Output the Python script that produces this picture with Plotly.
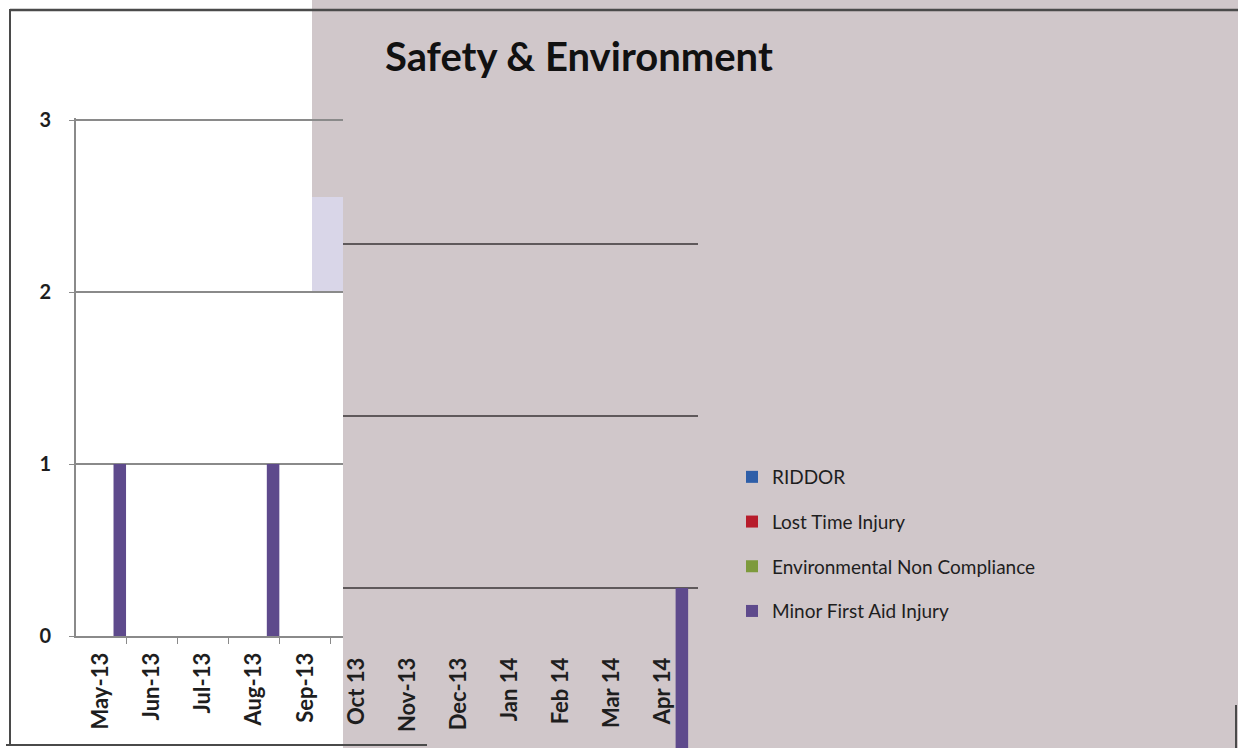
import plotly.graph_objects as go

# ---------------- data ----------------
months = ["May-13", "Jun-13", "Jul-13", "Aug-13", "Sep-13",
          "Oct 13", "Nov-13", "Dec-13", "Jan 14", "Feb 14", "Mar 14", "Apr 14"]
riddor = [0, 0, 0, 0, 0, 0, 0, 0, 0, 0, 0, 0]
lost_time_injury = [0, 0, 0, 0, 0, 0, 0, 0, 0, 0, 0, 0]
env_non_compliance = [0, 0, 0, 0, 0, 0, 0, 0, 0, 0, 0, 0]
minor_first_aid = [1, 0, 0, 1, 0, 0, 0, 0, 0, 0, 0, 1]
series_names = ["RIDDOR", "Lost Time Injury", "Environmental Non Compliance", "Minor First Aid Injury"]
series_values = [riddor, lost_time_injury, env_non_compliance, minor_first_aid]
y_ticks = [0, 1, 2, 3]
title_text = "Safety & Environment"

# ---------------- style ----------------
W, H = 1238, 748
OFF = 0  # body margin removed by post_script below
colors = ["#2e5ea8", "#b71c2b", "#7d9a3c", "#5e4a8c"]
grey_bg = "#d0c7ca"
txt = "#1e1e1e"

def fx(p):
    return min(max((p - OFF) / W, 0.0), 1.0)

def fy(p):
    return min(max(1 - (p - OFF) / H, 0.0), 1.0)

split = 5  # first part drawn on the white panel, rest on the grey panel
cat_w = 51.1
c0 = 101.0  # screen pixel centre of first category

a_left, a_right = 76.0, 343.0
a_range = [(a_left - c0) / cat_w, (a_right - c0) / cat_w]
b_c0 = c0 + cat_w * split
b_left, b_right = 343.0, 698.0
b_range = [(b_left - b_c0) / cat_w, (b_right - b_c0) / cat_w]

px_per_unit = 172.0
a_top, a_bottom = 118.3, 636.0
b_one = 588.0
b_top, b_bottom = 120.0, 748.0
b_yrange = [1 - (b_bottom - b_one) / px_per_unit, 1 + (b_one - b_top) / px_per_unit]

fig = go.Figure()
for name, vals, col in zip(series_names, series_values, colors):
    fig.add_trace(go.Bar(x=months[:split], y=vals[:split], name=name, marker_color=col,
                         marker_line_width=0, legendgroup=name, xaxis="x", yaxis="y"))
for name, vals, col in zip(series_names, series_values, colors):
    fig.add_trace(go.Bar(x=months[split:], y=vals[split:], name=name, marker_color=col,
                         marker_line_width=0, legendgroup=name, showlegend=False,
                         xaxis="x2", yaxis="y2"))

xtickfont = dict(family="Lato", size=22, color=txt, weight="bold")
ytickfont = dict(family="Lato", size=20, color=txt, weight="bold")

shapes = [
    dict(type="rect", xref="paper", yref="paper", x0=fx(343), x1=1, y0=0, y1=1,
         fillcolor=grey_bg, line_width=0, layer="below"),
    dict(type="rect", xref="paper", yref="paper", x0=fx(312), x1=fx(343), y0=fy(197), y1=1,
         fillcolor=grey_bg, line_width=0, layer="below"),
    dict(type="rect", xref="paper", yref="paper", x0=fx(312), x1=fx(343), y0=fy(292), y1=fy(197),
         fillcolor="#d9d6e8", line_width=0, layer="below"),
    # frame
    dict(type="line", xref="paper", yref="paper", x0=fx(10), x1=fx(10), y0=fy(745), y1=fy(9),
         line=dict(color="#4a4a4a", width=2)),
    dict(type="line", xref="paper", yref="paper", x0=fx(10), x1=1, y0=fy(10), y1=fy(10),
         line=dict(color="#4a4a4a", width=2.5)),
    dict(type="line", xref="paper", yref="paper", x0=fx(6), x1=fx(427), y0=fy(745), y1=fy(745),
         line=dict(color="#4a4a4a", width=2)),
    dict(type="line", xref="paper", yref="paper", x0=fx(1236), x1=fx(1236), y0=0, y1=fy(705),
         line=dict(color="#4a4a4a", width=2)),
]

fig.update_layout(
    width=W, height=H, autosize=False,
    margin=dict(l=0, r=0, t=0, b=0, pad=0, autoexpand=False),
    paper_bgcolor="white",
    plot_bgcolor="rgba(0,0,0,0)",
    barmode="group", bargap=0.02, bargroupgap=0,
    shapes=shapes,
    showlegend=True,
    legend=dict(x=fx(732), y=fy(458), xanchor="left", yanchor="top",
                bgcolor="rgba(0,0,0,0)", tracegroupgap=17,
                font=dict(family="Lato", size=19, color=txt)),
    annotations=[dict(text=title_text, xref="paper", yref="paper", x=fx(383), y=fy(56),
                      xanchor="left", yanchor="middle", showarrow=False,
                      font=dict(family="Lato", size=40, color="#111", weight="bold"))],
    xaxis=dict(domain=[fx(a_left), fx(a_right)], range=a_range, type="category",
               anchor="y", showline=True, linecolor="#8a8a8a", linewidth=2, automargin=False,
               ticks="outside", ticklen=6, tickcolor="#8a8a8a", tickson="boundaries",
               showgrid=False, tickangle=-90, tickfont=xtickfont, ticklabelstandoff=6),
    yaxis=dict(domain=[fy(a_bottom), fy(a_top)], range=[0, 3.01], anchor="x", automargin=False,
               tickvals=y_ticks, showline=True, linecolor="#8a8a8a", linewidth=2,
               ticks="outside", ticklen=5, tickcolor="#8a8a8a",
               showgrid=True, gridcolor="#8a8a8a", gridwidth=2, zeroline=False,
               tickfont=ytickfont, ticklabelstandoff=14),
    xaxis2=dict(domain=[fx(b_left), fx(b_right)], range=b_range, type="category",
                anchor="free", position=fy(636), showline=False, ticks="outside", automargin=False,
                ticklen=6, tickcolor="rgba(0,0,0,0)", ticklabelstandoff=6,
                showgrid=False, tickangle=-90, tickfont=xtickfont),
    yaxis2=dict(domain=[fy(b_bottom), fy(b_top)], range=b_yrange, anchor="x2", automargin=False,
                tickvals=y_ticks, showticklabels=False, ticks="", showline=False,
                showgrid=True, gridcolor="#5f595b", gridwidth=2, zeroline=False),
)

fig.write_html("out.html", config={"displayModeBar": False},
               post_script="document.body.style.margin='0';document.body.style.overflow='hidden';")
